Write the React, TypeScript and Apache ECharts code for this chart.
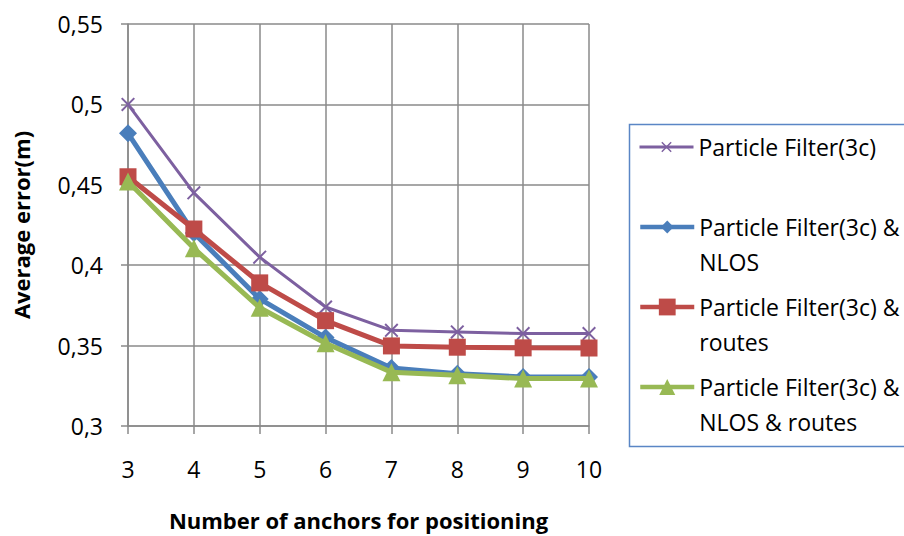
import React, { useEffect, useRef } from "react";
import * as echarts from "echarts";

// Number of anchors used for positioning
const anchors = ["3", "4", "5", "6", "7", "8", "9", "10"];

// Average positioning error (m) per method
const pf3c = [0.5, 0.445, 0.405, 0.374, 0.3595, 0.3585, 0.3575, 0.3575];
const pf3cNlos = [0.482, 0.42, 0.379, 0.355, 0.336, 0.3325, 0.3305, 0.3305];
const pf3cRoutes = [0.455, 0.4225, 0.389, 0.3655, 0.3498, 0.349, 0.3486, 0.3485];
const pf3cNlosRoutes = [0.452, 0.4105, 0.3735, 0.3515, 0.3335, 0.3315, 0.3295, 0.3295];

const seriesNames = [
  "Particle Filter(3c)",
  "Particle Filter(3c) & NLOS",
  "Particle Filter(3c) & routes",
  "Particle Filter(3c) & NLOS & routes",
];
// Legend text, wrapped the way it is shown in the key
const legendLabels = [
  "Particle Filter(3c)",
  "\nParticle Filter(3c) &\nNLOS",
  "\nParticle Filter(3c) &\nroutes",
  "\nParticle Filter(3c) &\nNLOS & routes",
];

const yTicks = { min: 0.3, max: 0.55, step: 0.05 };

const FONT = "'Open Sans', 'Liberation Sans', sans-serif";
const GRID_GRAY = "#8a8a8a";
const COLORS = ["#7d60a0", "#4a7ebb", "#be4b48", "#98b954"];

// Filled "x" cross marker
const CROSS =
  "path://M0,1 L1,0 L5,4 L9,0 L10,1 L6,5 L10,9 L9,10 L5,6 L1,10 L0,9 L4,5 Z";
const SYMBOLS = [CROSS, "diamond", "rect", "triangle"];
const SYMBOL_SIZES = [14, 18, 17, 18];
const LINE_WIDTHS = [3, 5, 5, 5];
const LEGEND_LINE_WIDTHS = [3, 4.5, 4.5, 4.5];
const LEGEND_ICON_HEIGHTS = [13, 16, 21, 20];
const LEGEND_ICON_CENTERS = [147, 227, 307, 387];
const LEGEND_LINE_HEIGHT = 35;

export default function App() {
  const ref = useRef<HTMLDivElement>(null);

  useEffect(() => {
    if (!ref.current) return;
    const chart = echarts.init(ref.current, null, { renderer: "svg" });

    const data = [pf3c, pf3cNlos, pf3cRoutes, pf3cNlosRoutes];

    const series = data.map((values, i) => ({
      name: seriesNames[i],
      type: "line" as const,
      data: values,
      symbol: SYMBOLS[i],
      symbolSize: SYMBOL_SIZES[i],
      showAllSymbol: true,
      lineStyle: { color: COLORS[i], width: LINE_WIDTHS[i] },
      itemStyle: { color: COLORS[i], borderWidth: 0 },
      emphasis: { disabled: true },
      z: 2 + i,
    }));

    const legends = seriesNames.map((name, i) => {
      const lines = legendLabels[i].split("\n").length;
      return {
        data: [name],
        orient: "vertical" as const,
        left: 638,
        top: LEGEND_ICON_CENTERS[i] - (lines * LEGEND_LINE_HEIGHT) / 2,
        padding: 0,
        itemWidth: 54,
        itemHeight: LEGEND_ICON_HEIGHTS[i],
        selectedMode: false,
        formatter: () => legendLabels[i],
        lineStyle: { width: LEGEND_LINE_WIDTHS[i] },
        itemStyle: { borderWidth: 0 },
        textStyle: {
          fontFamily: FONT,
          fontSize: 23,
          lineHeight: LEGEND_LINE_HEIGHT,
          color: "#000",
        },
      };
    });

    chart.setOption({
      animation: false,
      backgroundColor: "#fff",
      color: COLORS,
      grid: { left: 128, right: 315, top: 24, bottom: 107 },
      xAxis: {
        type: "category",
        data: anchors,
        boundaryGap: false,
        name: "Number of anchors for positioning",
        nameLocation: "middle",
        nameGap: 83,
        nameTextStyle: {
          fontFamily: FONT,
          fontSize: 22,
          fontWeight: "bold",
          color: "#000",
          verticalAlign: "top",
        },
        axisLine: { lineStyle: { color: GRID_GRAY, width: 1.5 } },
        axisTick: { show: true, length: 8, alignWithLabel: true, lineStyle: { color: GRID_GRAY, width: 1.5 } },
        axisLabel: { fontFamily: FONT, fontSize: 23, color: "#000", margin: 31 },
        splitLine: { show: true, lineStyle: { color: GRID_GRAY, width: 1.5 } },
      },
      yAxis: {
        type: "value",
        min: yTicks.min,
        max: yTicks.max,
        interval: yTicks.step,
        name: "Average error(m)",
        nameLocation: "middle",
        nameGap: 96,
        nameRotate: 90,
        nameTextStyle: {
          fontFamily: FONT,
          fontSize: 22,
          fontWeight: "bold",
          color: "#000",
        },
        axisLine: { show: true, lineStyle: { color: GRID_GRAY, width: 1.5 } },
        axisTick: { show: true, length: 7, lineStyle: { color: GRID_GRAY, width: 1.5 } },
        axisLabel: {
          fontFamily: FONT,
          fontSize: 23,
          color: "#000",
          margin: 25,
          formatter: (v: number) => String(+v.toFixed(2)).replace(".", ","),
        },
        splitLine: { show: true, lineStyle: { color: GRID_GRAY, width: 1.5 } },
      },
      legend: legends,
      graphic: [
        {
          type: "rect",
          left: 627,
          top: 122,
          shape: { width: 300, height: 322 },
          style: { fill: "none", stroke: "#5a86c5", lineWidth: 1.5 },
          silent: true,
          z: 0,
        },
      ],
      series,
    });

    return () => chart.dispose();
  }, []);

  return (
    <div
      ref={ref}
      style={{ position: "fixed", left: 0, top: 0, width: 904, height: 536, background: "#fff" }}
    />
  );
}
